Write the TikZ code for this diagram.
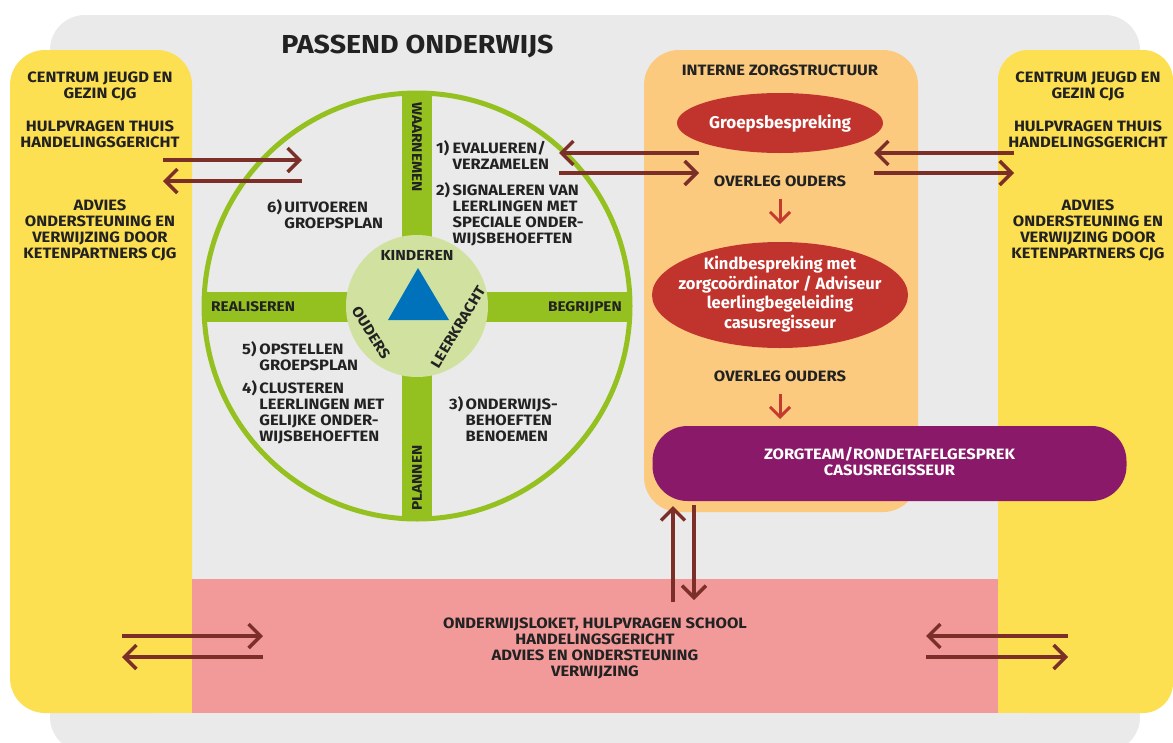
\documentclass[tikz,border=0pt]{standalone}
\usepackage{fontspec}
\setmainfont{Fira Sans}[FakeStretch=1.1]
\newfontfamily\plainfira{Fira Sans}
\usetikzlibrary{arrows.meta,shapes.geometric}
\definecolor{bggray}{HTML}{EAEAEA}
\definecolor{yel}{HTML}{FDDF52}
\definecolor{org}{HTML}{FBCA7F}
\definecolor{pnk}{HTML}{F29A9A}
\definecolor{redE}{HTML}{C1342D}
\definecolor{purp}{HTML}{8A1A69}
\definecolor{grn}{HTML}{94C11F}
\definecolor{lgrn}{HTML}{D1E2A0}
\definecolor{blu}{HTML}{0072BC}
\definecolor{brn}{HTML}{7B2F28}
\definecolor{redA}{HTML}{C53A2E}
\definecolor{txt}{HTML}{222222}
\tikzset{
  lbl/.style={font=\fontsize{15}{16}\selectfont\bfseries, text=txt, inner sep=0pt},
  lblsm/.style={font=\fontsize{14.5}{16}\selectfont\bfseries, text=txt, inner sep=0pt},
  barlbl/.style={font=\fontsize{14}{16}\selectfont\bfseries, text=txt, inner sep=0pt},
  wlbl/.style={font=\plainfira\fontsize{17}{19.5}\selectfont\bfseries, text=white, inner sep=0pt},
  wlblsm/.style={font=\plainfira\fontsize{16.5}{19.5}\selectfont\bfseries, text=white, inner sep=0pt},
  bigarrow/.style={draw=brn, line width=3.5pt, -{Straight Barb[length=12pt,width=24pt]}},
  redarrow/.style={draw=redA, line width=3pt, -{Straight Barb[length=10pt,width=20pt]}},
}
\begin{document}
\begin{tikzpicture}[x=1pt,y=-1pt]
\useasboundingbox (0,0) rectangle (1173,742);
\clip (0,0) rectangle (1173,742);
% background panels
\fill[bggray, rounded corners=35pt] (50,15) rectangle (1140,752);
\fill[yel, rounded corners=35pt] (10,50) rectangle (192,713);
\fill[yel] (150,640) rectangle (192,713);
\fill[yel, rounded corners=30pt] (998,50) rectangle (1173,713);
\fill[yel] (998,640) rectangle (1040,713);
\fill[pnk] (192,579) rectangle (998,713);
\fill[org, rounded corners=35pt] (644,50) rectangle (918,512);

% title
\node[font=\fontsize{26}{28}\selectfont\bfseries, text=txt, inner sep=0pt, anchor=base] (title) at (417.5,53) {PASSEND ONDERWIJS};

% yellow texts left
\node[lbl, anchor=base] (yl1) at (100,82) {\begin{tabular}[t]{@{}c@{}}CENTRUM JEUGD EN\\GEZIN CJG\end{tabular}};
\node[lbl, anchor=base] (yl2) at (100,131) {\begin{tabular}[t]{@{}c@{}}HULPVRAGEN THUIS\\HANDELINGSGERICHT\end{tabular}};
\node[lbl, anchor=base] (yl3) at (100,210) {\begin{tabular}[t]{@{}c@{}}ADVIES\\ONDERSTEUNING EN\\VERWIJZING DOOR\\KETENPARTNERS CJG\end{tabular}};
% yellow texts right
\node[lbl, anchor=base] (yr1) at (1088,82) {\begin{tabular}[t]{@{}c@{}}CENTRUM JEUGD EN\\GEZIN CJG\end{tabular}};
\node[lbl, anchor=base] (yr2) at (1088,131) {\begin{tabular}[t]{@{}c@{}}HULPVRAGEN THUIS\\HANDELINGSGERICHT\end{tabular}};
\node[lbl, anchor=base] (yr3) at (1088,210) {\begin{tabular}[t]{@{}c@{}}ADVIES\\ONDERSTEUNING EN\\VERWIJZING DOOR\\KETENPARTNERS CJG\end{tabular}};

% circle
\fill[grn] (402,92) rectangle (432,520);
\fill[grn] (203,292) rectangle (631,322);
\draw[grn, line width=5pt] (417,306) circle[radius=213pt];
\fill[lgrn] (417,306) circle[radius=71pt];
\fill[blu] (418,268) -- (449,320) -- (388,320) -- cycle;
\node[lblsm] (kind) at (417,255) {KINDEREN};
\node[lblsm, rotate=-58] (oud) at (371,333) {OUDERS};
\node[lblsm, rotate=59] (leer) at (458,327) {LEERKRACHT};
\node[barlbl, rotate=-90] (waar) at (417,147) {WAARNEMEN};
\node[barlbl, rotate=90] (plan) at (417,478) {PLANNEN};
\node[barlbl, anchor=base west] (real) at (211,311) {REALISEREN};
\node[barlbl, anchor=base east] (begr) at (622,311) {BEGRIJPEN};

% step texts
\node[lbl, anchor=base west] (s12) at (436,153) {\begin{tabular}[t]{@{}l@{\,}l@{}}1) & EVALUEREN/\\ & VERZAMELEN\\[9pt]2) & SIGNALEREN VAN\\ & LEERLINGEN MET\\ & SPECIALE ONDER-\\ & WIJSBEHOEFTEN\end{tabular}};
\node[lbl, anchor=base west] (s6) at (267,212) {\begin{tabular}[t]{@{}l@{\,}l@{}}6) & UITVOEREN\\ & GROEPSPLAN\end{tabular}};
\node[lbl, anchor=base west] (s54) at (242,354) {\begin{tabular}[t]{@{}l@{\,}l@{}}5) & OPSTELLEN\\ & GROEPSPLAN\\[6pt]4) & CLUSTEREN\\ & LEERLINGEN MET\\ & GELIJKE ONDER-\\ & WIJSBEHOEFTEN\end{tabular}};
\node[lbl, anchor=base west] (s3) at (449,409) {\begin{tabular}[t]{@{}l@{\,}l@{}}3) & ONDERWIJS-\\ & BEHOEFTEN\\ & BENOEMEN\end{tabular}};

% interne zorgstructuur
\node[lbl, anchor=base] (izs) at (780,75) {INTERNE ZORGSTRUCTUUR};
\node[ellipse, fill=redE, minimum width=206pt, minimum height=60pt, inner sep=0pt] (gb) at (780,123) {};
\node[wlbl] at (gb.center) {Groepsbespreking};
\node[lbl, anchor=base] (ov1) at (780,186) {OVERLEG OUDERS};
\node[ellipse, fill=redE, minimum width=256pt, minimum height=106pt, inner sep=0pt] (kb) at (780,295) {};
\node[wlblsm] at (kb.center) {\begin{tabular}{@{}c@{}}Kindbespreking met\\zorgcoördinator / Adviseur\\leerlingbegeleiding\\casusregisseur\end{tabular}};
\node[lbl, anchor=base] (ov2) at (780,381) {OVERLEG OUDERS};
\node[fill=purp, rounded corners=35pt, minimum width=474pt, minimum height=75pt, inner sep=0pt] (zt) at (889.5,463.5) {};
\node[lbl, text=white] at (zt.center) {\begin{tabular}{@{}c@{}}ZORGTEAM/RONDETAFELGESPREK\\CASUSREGISSEUR\end{tabular}};

% pink text
\node[lbl, anchor=base] (loket) at (595,628) {\begin{tabular}[t]{@{}c@{}}ONDERWIJSLOKET, HULPVRAGEN SCHOOL\\HANDELINGSGERICHT\\ADVIES EN ONDERSTEUNING\\VERWIJZING\end{tabular}};

% arrow coordinates
\coordinate (l1a) at (163,160); \coordinate (l1b) at (302,160);
\coordinate (l2a) at (302,181); \coordinate (l2b) at (163,181);
\coordinate (c1a) at (699,153); \coordinate (c1b) at (559,153);
\coordinate (c2a) at (559,173); \coordinate (c2b) at (699,173);
\coordinate (r1a) at (1014,153); \coordinate (r1b) at (874,153);
\coordinate (r2a) at (874,173); \coordinate (r2b) at (1014,173);
\coordinate (v1a) at (673,602); \coordinate (v1b) at (673,506);
\coordinate (v2a) at (694,505); \coordinate (v2b) at (694,600);
\coordinate (p1a) at (122,636); \coordinate (p1b) at (263,636);
\coordinate (p2a) at (263,657); \coordinate (p2b) at (122,657);
\coordinate (p3a) at (1068,636); \coordinate (p3b) at (926,636);
\coordinate (p4a) at (926,657); \coordinate (p4b) at (1068,657);
\coordinate (d1a) at (780,199); \coordinate (d1b) at (780,224);
\coordinate (d2a) at (780,394); \coordinate (d2b) at (780,419);

\draw[bigarrow] (l1a) -- (l1b);
\draw[bigarrow] (l2a) -- (l2b);
\draw[bigarrow] (c1a) -- (c1b);
\draw[bigarrow] (c2a) -- (c2b);
\draw[bigarrow] (r1a) -- (r1b);
\draw[bigarrow] (r2a) -- (r2b);
\draw[bigarrow] (v1a) -- (v1b);
\draw[bigarrow] (v2a) -- (v2b);
\draw[bigarrow] (p1a) -- (p1b);
\draw[bigarrow] (p2a) -- (p2b);
\draw[bigarrow] (p3a) -- (p3b);
\draw[bigarrow] (p4a) -- (p4b);
\draw[redarrow] (d1a) -- (d1b);
\draw[redarrow] (d2a) -- (d2b);
\end{tikzpicture}
\end{document}
